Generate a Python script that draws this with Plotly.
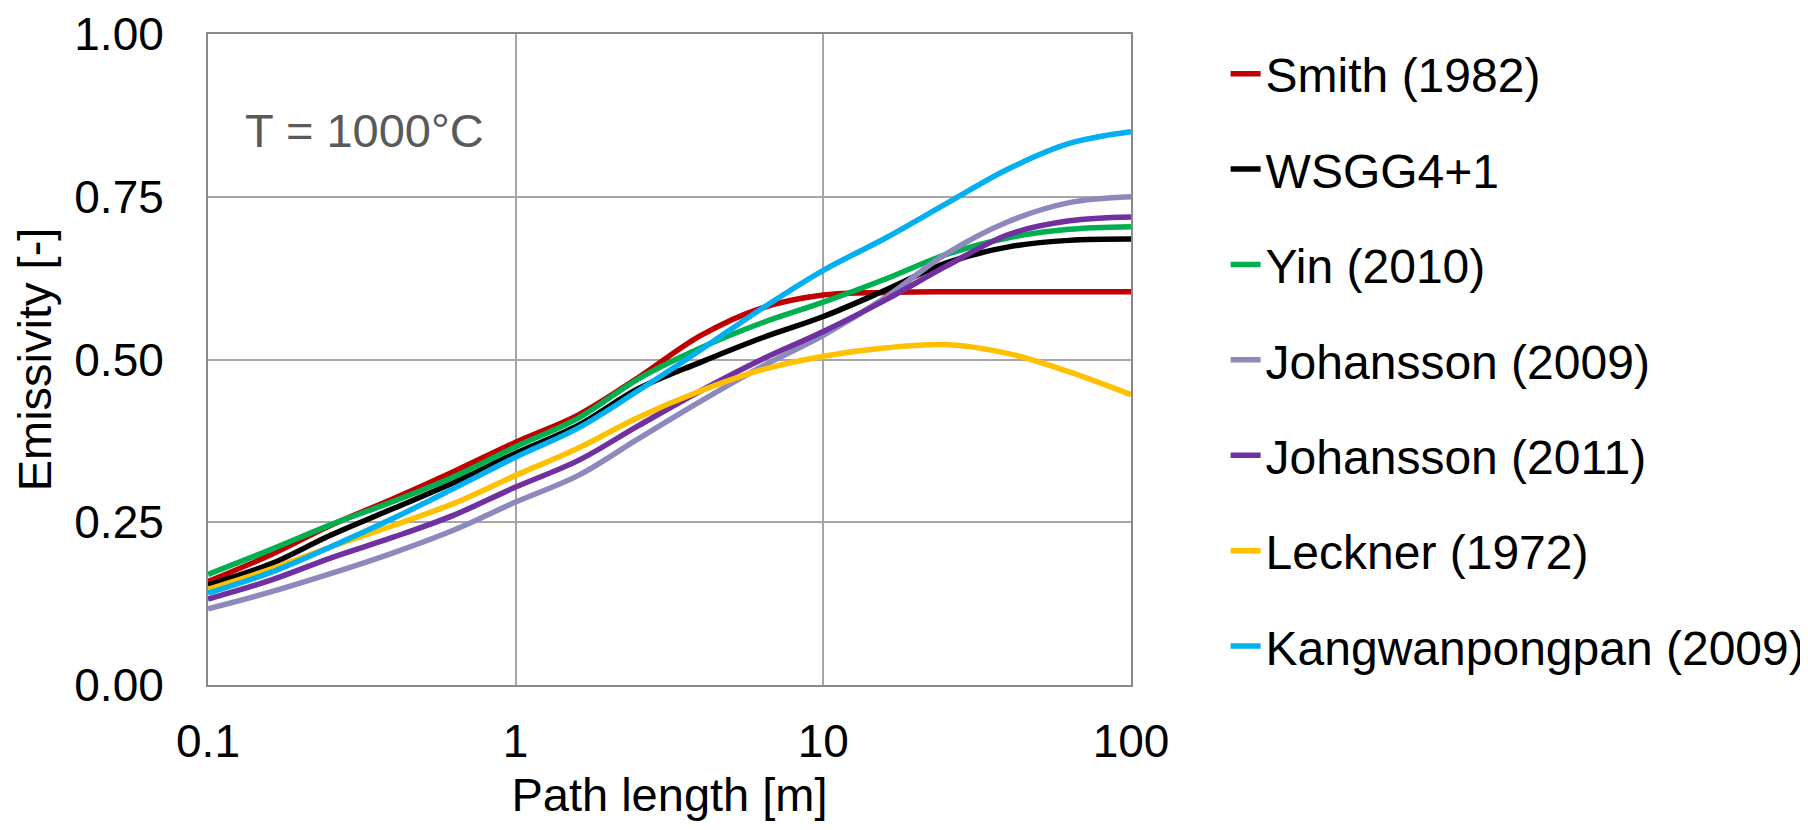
import plotly.graph_objects as go

path_length = [0.1, 0.16, 0.25, 0.4, 0.63, 1, 1.6, 2.5, 4, 6.3, 10, 16, 25, 40, 63, 100]

smith_1982 = [0.159, 0.200, 0.245, 0.286, 0.328, 0.373, 0.415, 0.472, 0.537, 0.579, 0.599, 0.603, 0.604, 0.604, 0.604, 0.604]
wsgg4p1 = [0.154, 0.186, 0.230, 0.271, 0.311, 0.356, 0.399, 0.455, 0.496, 0.533, 0.566, 0.607, 0.648, 0.673, 0.683, 0.685]
yin_2010 = [0.170, 0.208, 0.246, 0.282, 0.320, 0.366, 0.410, 0.470, 0.518, 0.556, 0.588, 0.624, 0.661, 0.687, 0.700, 0.704]
johansson_2009 = [0.117, 0.143, 0.171, 0.203, 0.238, 0.281, 0.322, 0.378, 0.436, 0.489, 0.537, 0.596, 0.662, 0.712, 0.741, 0.750]
johansson_2011 = [0.132, 0.161, 0.195, 0.227, 0.261, 0.304, 0.345, 0.398, 0.452, 0.500, 0.543, 0.592, 0.643, 0.692, 0.713, 0.719]
leckner_1972 = [0.147, 0.178, 0.212, 0.245, 0.279, 0.322, 0.364, 0.411, 0.452, 0.484, 0.505, 0.518, 0.523, 0.509, 0.481, 0.446]
kangwanpongpan_2009 = [0.141, 0.173, 0.212, 0.256, 0.302, 0.350, 0.395, 0.452, 0.515, 0.578, 0.637, 0.687, 0.739, 0.793, 0.832, 0.850]

series_names = ["Smith (1982)", "WSGG4+1", "Yin (2010)", "Johansson (2009)",
                "Johansson (2011)", "Leckner (1972)", "Kangwanpongpan (2009)"]
series_values = [smith_1982, wsgg4p1, yin_2010, johansson_2009,
                 johansson_2011, leckner_1972, kangwanpongpan_2009]
series_colors = ["#C00000", "#000000", "#00B050", "#8E89BC",
                 "#7030A0", "#FFC000", "#00B0F0"]

x_ticks = [0.1, 1, 10, 100]
x_tick_labels = ["0.1", "1", "10", "100"]
y_ticks = [0, 0.25, 0.5, 0.75, 1.0]
y_tick_labels = ["0.00", "0.25", "0.50", "0.75", "1.00"]

FONT = "Arial, 'Liberation Sans', sans-serif"

fig = go.Figure()
for i in range(len(series_names)):
    fig.add_trace(go.Scatter(
        x=path_length, y=series_values[i], name=series_names[i], mode="lines",
        line=dict(color=series_colors[i], width=5.5, shape="spline", smoothing=1.0),
        legendgroup=series_names[i], legendrank=i + 1,
    ))

fig.update_layout(
    width=1808, height=830,
    margin=dict(l=199.5, r=685, t=25.5, b=153, autoexpand=False),
    paper_bgcolor="white", plot_bgcolor="white",
    font=dict(family=FONT, size=46, color="black"),
    showlegend=True,
    legend=dict(x=1.1025, y=0.997, xanchor="left", yanchor="top",
                font=dict(size=48, color="black"),
                tracegroupgap=30, itemwidth=30, maxheight=830,
                bgcolor="rgba(0,0,0,0)"),
    xaxis=dict(type="log", range=[-1, 2], tickvals=x_ticks, ticktext=x_tick_labels,
               showgrid=True, gridcolor="#A6A6A6", gridwidth=2,
               showline=True, linecolor="#898989", linewidth=2, mirror=True,
               ticks="", ticklabelstandoff=15, zeroline=False, automargin=False,
               tickfont=dict(size=46),
               title=dict(text="Path length [m]", standoff=12, font=dict(size=47))),
    yaxis=dict(range=[0, 1], tickvals=y_ticks, ticktext=y_tick_labels,
               showgrid=True, gridcolor="#A6A6A6", gridwidth=2,
               showline=True, linecolor="#898989", linewidth=2, mirror=True,
               ticks="", ticklabelstandoff=33, zeroline=False, automargin=False,
               tickfont=dict(size=46),
               title=dict(text="Emissivity [-]", standoff=30, font=dict(size=47))),
    annotations=[dict(text="T = 1000°C", x=0.038, y=0.851, xref="paper", yref="paper",
                      xanchor="left", yanchor="middle", showarrow=False,
                      font=dict(size=47, color="#595959"))],
)

fig.write_html("out.html")
